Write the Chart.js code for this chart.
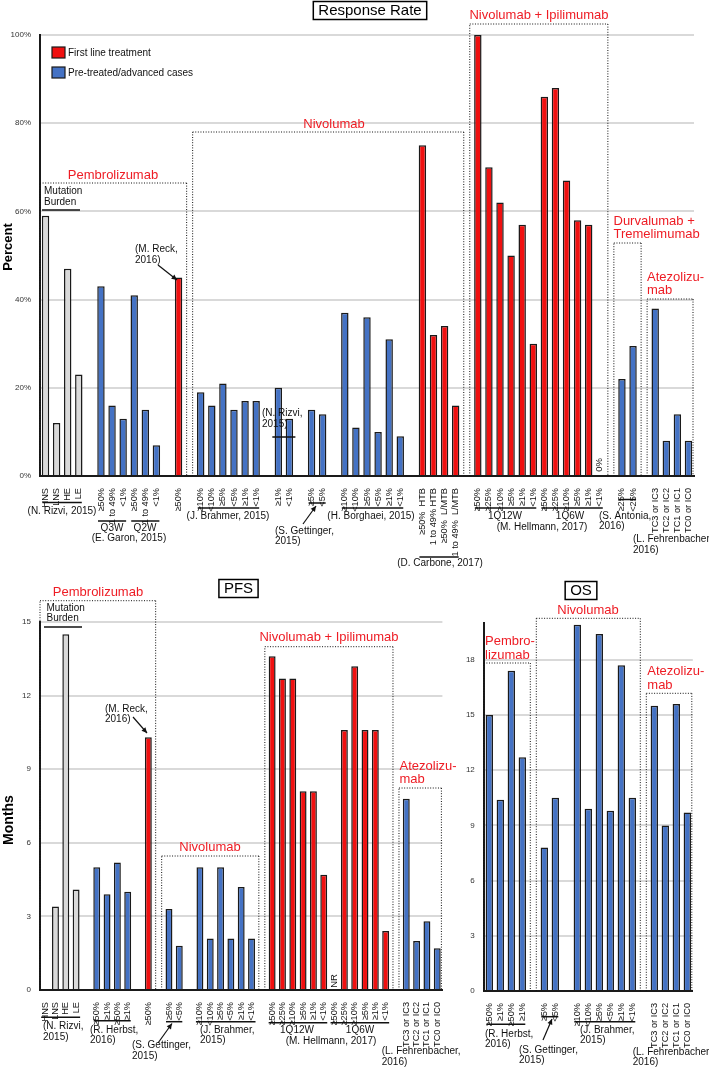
<!DOCTYPE html>
<html>
<head>
<meta charset="utf-8">
<title>Response rate, PFS and OS</title>
<script src="https://cdn.jsdelivr.net/npm/chart.js@4.4.1/dist/chart.umd.min.js"></script>
<style>
  body { margin: 0; background: #fff; }
  canvas { position: absolute; left: 0; }
</style>
</head>
<body>
<canvas id="rrChart" width="709" height="575" style="top:0"></canvas>
<canvas id="pfsChart" width="709" height="499" style="top:570px"></canvas>
<canvas id="osChart" width="709" height="499" style="top:570px"></canvas>
<script>
// ---- Response rate (%) ----
const rrLabels = ['HNS', 'LNS', 'HE', 'LE', '',
  '≥50%', '1 to 49%', '<1%', '≥50%', '1 to 49%', '<1%', '',
  '≥50%', '',
  '≥10%', '<10%', '≥5%', '<5%', '≥1%', '<1%', '',
  '≥1%', '<1%', '',
  '≥5%', '<5%', '',
  '≥10%', '<10%', '≥5%', '<5%', '≥1%', '<1%', '',
  '≥50%  HTB', '1 to 49% HTB', '≥50%  L/MTB', '1 to 49%  L/MTB', '',
  '≥50%', '≥25%', '≥10%', '≥5%', '≥1%', '<1%',
  '≥50%', '≥25%', '≥10%', '≥5%', '≥1%', '<1%', '',
  '≥25%', '<25%', '',
  'TC3 or IC3', 'TC2 or IC2', 'TC1 or IC1', 'TC0 or IC0'];
const rrValues = [59, 12, 47, 23, null,
  43, 16, 13, 41, 15, 7, null,
  45, null,
  19, 16, 21, 15, 17, 17, null,
  20, 13, null,
  15, 14, null,
  37, 11, 36, 10, 31, 9, null,
  75, 32, 34, 16, null,
  100, 70, 62, 50, 57, 30,
  86, 88, 67, 58, 57, 0, null,
  22, 29.5, null,
  38, 8, 14, 8];
// F = first line, P = pre-treated, M = mutation burden groups
const rrTypes = 'MMMM-PPPPPP-F-PPPPPP-PP-PP-PPPPPP-FFFF-FFFFFFFFFFFF-PP-PPPP'.split('');

// ---- PFS (months) ----
const pfsLabels = ['HNS', 'LNS', 'HE', 'LE', '',
  '≥50%', '≥1%', '≥50%', '≥1%', '',
  '≥50%', '',
  '≥5%', '<5%', '',
  '≥10%', '<10%', '≥5%', '<5%', '≥1%', '<1%', '',
  '≥50%', '≥25%', '≥10%', '≥5%', '≥1%', '<1%',
  '≥50%', '≥25%', '≥10%', '≥5%', '≥1%', '<1%', '',
  'TC3 or IC3', 'TC2 or IC2', 'TC1 or IC1', 'TC0 or IC0'];
const pfsValues = [null, 3.4, 14.5, 4.1, null,
  5.0, 3.9, 5.2, 4.0, null,
  10.3, null,
  3.3, 1.8, null,
  5.0, 2.1, 5.0, 2.1, 4.2, 2.1, null,
  13.6, 12.7, 12.7, 8.1, 8.1, 4.7,
  null, 10.6, 13.2, 10.6, 10.6, 2.4, null,
  7.8, 2.0, 2.8, 1.7];
const pfsTypes = 'MMMM-PPPP-F-PP-PPPPPP-FFFFFFFFFFFF-PPPP'.split('');

// ---- OS (months) ----
const osLabels = ['≥50%', '≥1%', '≥50%', '≥1%', '',
  '≥5%', '<5%', '',
  '≥10%', '<10%', '≥5%', '<5%', '≥1%', '<1%', '',
  'TC3 or IC3', 'TC2 or IC2', 'TC1 or IC1', 'TC0 or IC0'];
const osValues = [15.0, 10.4, 17.4, 12.7, null,
  7.8, 10.5, null,
  19.9, 9.9, 19.4, 9.8, 17.7, 10.5, null,
  15.5, 9.0, 15.6, 9.7];
const osTypes = 'PPPP-PP-PPPPPP-PPPP'.split('');

const legendNames = ['First line treatment', 'Pre-treated/advanced cases'];

const FONT = 'Arial, "Liberation Sans", sans-serif';
const RED = '#F01010', BLUE = '#4472C4', GREY = '#D9D9D9', EDGE = '#1a1a1a', LABEL_RED = '#EE1C24';
const FILL = { F: RED, P: BLUE, M: GREY, '-': 'rgba(0,0,0,0)' };

Chart.defaults.font.family = FONT;
Chart.defaults.color = '#222';

// small drawing kit bound to one chart
function kit(chart) {
  const ctx = chart.ctx, a = chart.chartArea;
  const X = i => chart.scales.x.getPixelForValue(i);
  const k = {
    X: X,
    area: a,
    text(s, x, y, o = {}) {
      ctx.save();
      ctx.font = (o.bold ? 'bold ' : '') + (o.size || 10) + 'px ' + FONT;
      ctx.fillStyle = o.color || '#111';
      ctx.textAlign = o.align || 'center';
      ctx.textBaseline = 'middle';
      ctx.translate(x, y);
      if (o.rot) ctx.rotate(o.rot);
      ctx.fillText(s, 0, 0);
      ctx.restore();
    },
    lines(arr, x, y, o = {}) {
      arr.forEach((s, n) => k.text(s, x, y + n * (o.lh || 10.5), Object.assign({ align: 'left' }, o)));
    },
    red(arr, x, y, align) {
      arr.forEach((s, n) => k.text(s, x, y + n * 13.5, { color: LABEL_RED, size: 13, align: align || 'center' }));
    },
    line(x1, y1, x2, y2, w, dash) {
      ctx.save();
      ctx.strokeStyle = '#111';
      ctx.lineWidth = w || 1.5;
      if (dash) ctx.setLineDash(dash);
      ctx.beginPath();
      ctx.moveTo(x1, y1);
      ctx.lineTo(x2, y2);
      ctx.stroke();
      ctx.restore();
    },
    bracket(i0, i1, y, pad) {
      pad = pad === undefined ? 3 : pad;
      k.line(X(i0) - pad, y, X(i1) + pad, y, 1.5);
    },
    // dotted box between two gap categories (null = plot edge)
    box(g0, g1, top) {
      const l = g0 === null ? a.left : X(g0) + 3;
      const r = g1 === null ? a.right - 1 : X(g1) - 3;
      const d = [1, 1.6];
      k.line(l, a.bottom, l, top, 1, d);
      k.line(l, top, r, top, 1, d);
      k.line(r, top, r, a.bottom, 1, d);
    },
    arrow(x1, y1, x2, y2) {
      k.line(x1, y1, x2, y2, 1.2);
      const ang = Math.atan2(y2 - y1, x2 - x1), L = 6;
      ctx.save();
      ctx.fillStyle = '#111';
      ctx.beginPath();
      ctx.moveTo(x2, y2);
      ctx.lineTo(x2 - L * Math.cos(ang - 0.45), y2 - L * Math.sin(ang - 0.45));
      ctx.lineTo(x2 - L * Math.cos(ang + 0.45), y2 - L * Math.sin(ang + 0.45));
      ctx.closePath();
      ctx.fill();
      ctx.restore();
    },
    title(s, cx, cy) {
      ctx.save();
      ctx.font = '15px ' + FONT;
      const w = ctx.measureText(s).width + 10, h = 18;
      ctx.fillStyle = '#fff';
      ctx.fillRect(cx - w / 2, cy - h / 2, w, h);
      ctx.lineWidth = 1.5;
      ctx.strokeStyle = '#000';
      ctx.strokeRect(cx - w / 2, cy - h / 2, w, h);
      ctx.restore();
      k.text(s, cx, cy + 0.5, { size: 15, color: '#000' });
    },
    swatch(x, y, color) {
      ctx.save();
      ctx.fillStyle = color;
      ctx.fillRect(x, y, 13, 11);
      ctx.lineWidth = 1.2;
      ctx.strokeStyle = EDGE;
      ctx.strokeRect(x, y, 13, 11);
      ctx.restore();
    }
  };
  return k;
}

function barChart(id, labels, values, types, axis, notes) {
  return new Chart(document.getElementById(id), {
    type: 'bar',
    data: {
      labels: labels,
      datasets: [{
        data: values,
        backgroundColor: types.map(t => FILL[t]),
        borderColor: EDGE,
        borderWidth: 1.5,
        barPercentage: 0.67,
        categoryPercentage: 1
      }]
    },
    options: {
      responsive: false,
      animation: false,
      devicePixelRatio: 1,
      layout: { padding: axis.padding },
      plugins: { legend: { display: false }, tooltip: { enabled: false } },
      scales: {
        x: {
          offset: true,
          grid: { display: false },
          border: { color: '#1a1a1a', width: 2 },
          ticks: { autoSkip: false, minRotation: 90, maxRotation: 90, padding: 4, color: '#111', font: { size: 9.2 } },
          afterFit: s => { s.height = axis.xHeight; }
        },
        y: {
          min: 0,
          max: axis.max,
          border: { color: '#1a1a1a', width: 2 },
          grid: {
            drawTicks: false,
            lineWidth: 2,
            color: c => c.tick.value === 0 ? 'rgba(0,0,0,0)' : '#D9D9D9'
          },
          ticks: { stepSize: axis.step, padding: 9, color: '#333', font: { size: 8 }, callback: axis.format },
          afterBuildTicks: s => { s.ticks = s.ticks.filter(t => t.value % axis.step === 0); },
          afterFit: s => { s.width = 40; }
        }
      }
    },
    plugins: [{ id: 'notes', afterDraw: c => notes(kit(c)) }]
  });
}

document.addEventListener('DOMContentLoaded', function() {

  // Response rate
  barChart('rrChart', rrLabels, rrValues, rrTypes,
    { padding: { left: 0, right: 15, top: 35, bottom: 0 }, xHeight: 99, max: 100, step: 20, format: v => v + '%' },
    function(k) {
      k.title('Response Rate', 370, 10.5);
      k.text('Percent', 8, 247, { bold: true, size: 13, rot: -Math.PI / 2, color: '#000' });

      k.swatch(52, 47, RED);
      k.text(legendNames[0], 68, 53, { align: 'left' });
      k.swatch(52, 67, BLUE);
      k.text(legendNames[1], 68, 73, { align: 'left' });

      // drug groups
      k.box(null, 13, 183); k.red(['Pembrolizumab'], 113, 175);
      k.box(13, 38, 132); k.red(['Nivolumab'], 334, 124);
      k.box(38, 51, 24); k.red(['Nivolumab + Ipilimumab'], 539, 15.5);
      k.box(51, 54, 243); k.red(['Durvalumab +', 'Tremelimumab'], 613.5, 221, 'left');
      k.box(54, null, 299); k.red(['Atezolizu-', 'mab'], 647, 277, 'left');

      k.lines(['Mutation', 'Burden'], 44, 191.5);
      k.line(42, 210, 80, 210, 1.5);
      k.lines(['(M. Reck,', '2016)'], 135, 249.5);
      k.arrow(158, 265, 177, 280);
      k.lines(['(N. Rizvi,', '2015)'], 262, 413.5);
      k.bracket(21, 22, 437, 6);
      k.text('0%', k.X(50), 465, { size: 9.5, rot: -Math.PI / 2 });

      // studies under the axis
      k.bracket(0, 3, 502.5);
      k.text('(N. Rizvi, 2015)', 62, 511);
      k.bracket(5, 7, 521); k.text('Q3W', 112, 528.5);
      k.bracket(8, 10, 521); k.text('Q2W', 145, 528.5);
      k.text('(E. Garon, 2015)', 129, 538.5);
      k.bracket(14, 19, 508); k.text('(J. Brahmer, 2015)', 228, 516);
      k.bracket(24, 25, 503);
      k.arrow(303, 524, 316, 506);
      k.lines(['(S. Gettinger,', '2015)'], 275, 531);
      k.bracket(27, 32, 508); k.text('(H. Borghaei, 2015)', 371, 516);
      k.bracket(34, 37, 557); k.text('(D. Carbone, 2017)', 440, 563);
      k.bracket(39, 44, 508); k.text('1Q12W', 505, 516);
      k.bracket(45, 50, 508); k.text('1Q6W', 570, 516);
      k.text('(M. Hellmann, 2017)', 542, 527.5);
      k.bracket(52, 53, 499.5);
      k.lines(['(S. Antonia,', '2016)'], 599, 516);
      k.lines(['(L. Fehrenbacher,', '2016)'], 633, 539.5);
    });

  // PFS
  barChart('pfsChart', pfsLabels, pfsValues, pfsTypes,
    { padding: { left: 0, right: 266.6, top: 52, bottom: 0 }, xHeight: 79, max: 15, step: 3, format: v => v },
    function(k) {
      k.title('PFS', 238.5, 18.5);
      k.text('Months', 9, 250, { bold: true, size: 14, rot: -Math.PI / 2, color: '#000' });

      k.box(null, 11, 30.7); k.red(['Pembrolizumab'], 98, 22);
      k.box(11, 21, 286); k.red(['Nivolumab'], 210, 277.7);
      k.box(21, 34, 76.7); k.red(['Nivolumab + Ipilimumab'], 329, 67);
      k.box(34, null, 218); k.red(['Atezolizu-', 'mab'], 399.5, 196, 'left');

      k.lines(['Mutation', 'Burden'], 46.5, 38);
      k.line(44, 57, 82, 57, 1.5);
      k.lines(['(M. Reck,', '2016)'], 105, 139);
      k.arrow(133, 147, 147, 163);
      k.text('NR', k.X(28), 411, { size: 9.5, rot: -Math.PI / 2 });

      k.bracket(0, 3, 447.3, 4);
      k.lines(['(N. Rizvi,', '2015)'], 43, 456.7);
      k.bracket(5, 8, 450.7);
      k.lines(['(R. Herbst,', '2016)'], 90, 460);
      k.bracket(12, 13, 451.7);
      k.arrow(158, 473, 172, 453.5);
      k.lines(['(S. Gettinger,', '2015)'], 132, 475.7);
      k.bracket(15, 20, 451.7, 4);
      k.lines(['(J. Brahmer,', '2015)'], 200, 460);
      k.bracket(22, 27, 452.7, 3.5); k.text('1Q12W', 297, 460);
      k.bracket(28, 33, 452.7, 3.5); k.text('1Q6W', 360, 460);
      k.text('(M. Hellmann, 2017)', 331, 471);
      k.lines(['(L. Fehrenbacher,', '2016)'], 381.7, 481.7);
    });

  // OS
  barChart('osChart', osLabels, osValues, osTypes,
    { padding: { left: 443.8, right: 16.2, top: 53, bottom: 0 }, xHeight: 78, max: 20, step: 3, format: v => v },
    function(k) {
      k.title('OS', 581, 20.5);

      k.box(null, 4, 93); k.red(['Pembro-', 'lizumab'], 485, 71.5, 'left');
      k.box(4, 14, 48.3); k.red(['Nivolumab'], 588, 40);
      k.box(14, null, 123.3); k.red(['Atezolizu-', 'mab'], 647.3, 101.7, 'left');

      k.bracket(0, 3, 454.3);
      k.lines(['(R. Herbst,', '2016)'], 485, 464);
      k.bracket(5, 6, 446.7);
      k.arrow(543, 470, 552, 449);
      k.lines(['(S. Gettinger,', '2015)'], 519, 480);
      k.bracket(8, 13, 451.7);
      k.lines(['(J. Brahmer,', '2015)'], 580, 460);
      k.lines(['(L. Fehrenbacher,', '2016)'], 632.7, 482);
    });
});
</script>
</body>
</html>
